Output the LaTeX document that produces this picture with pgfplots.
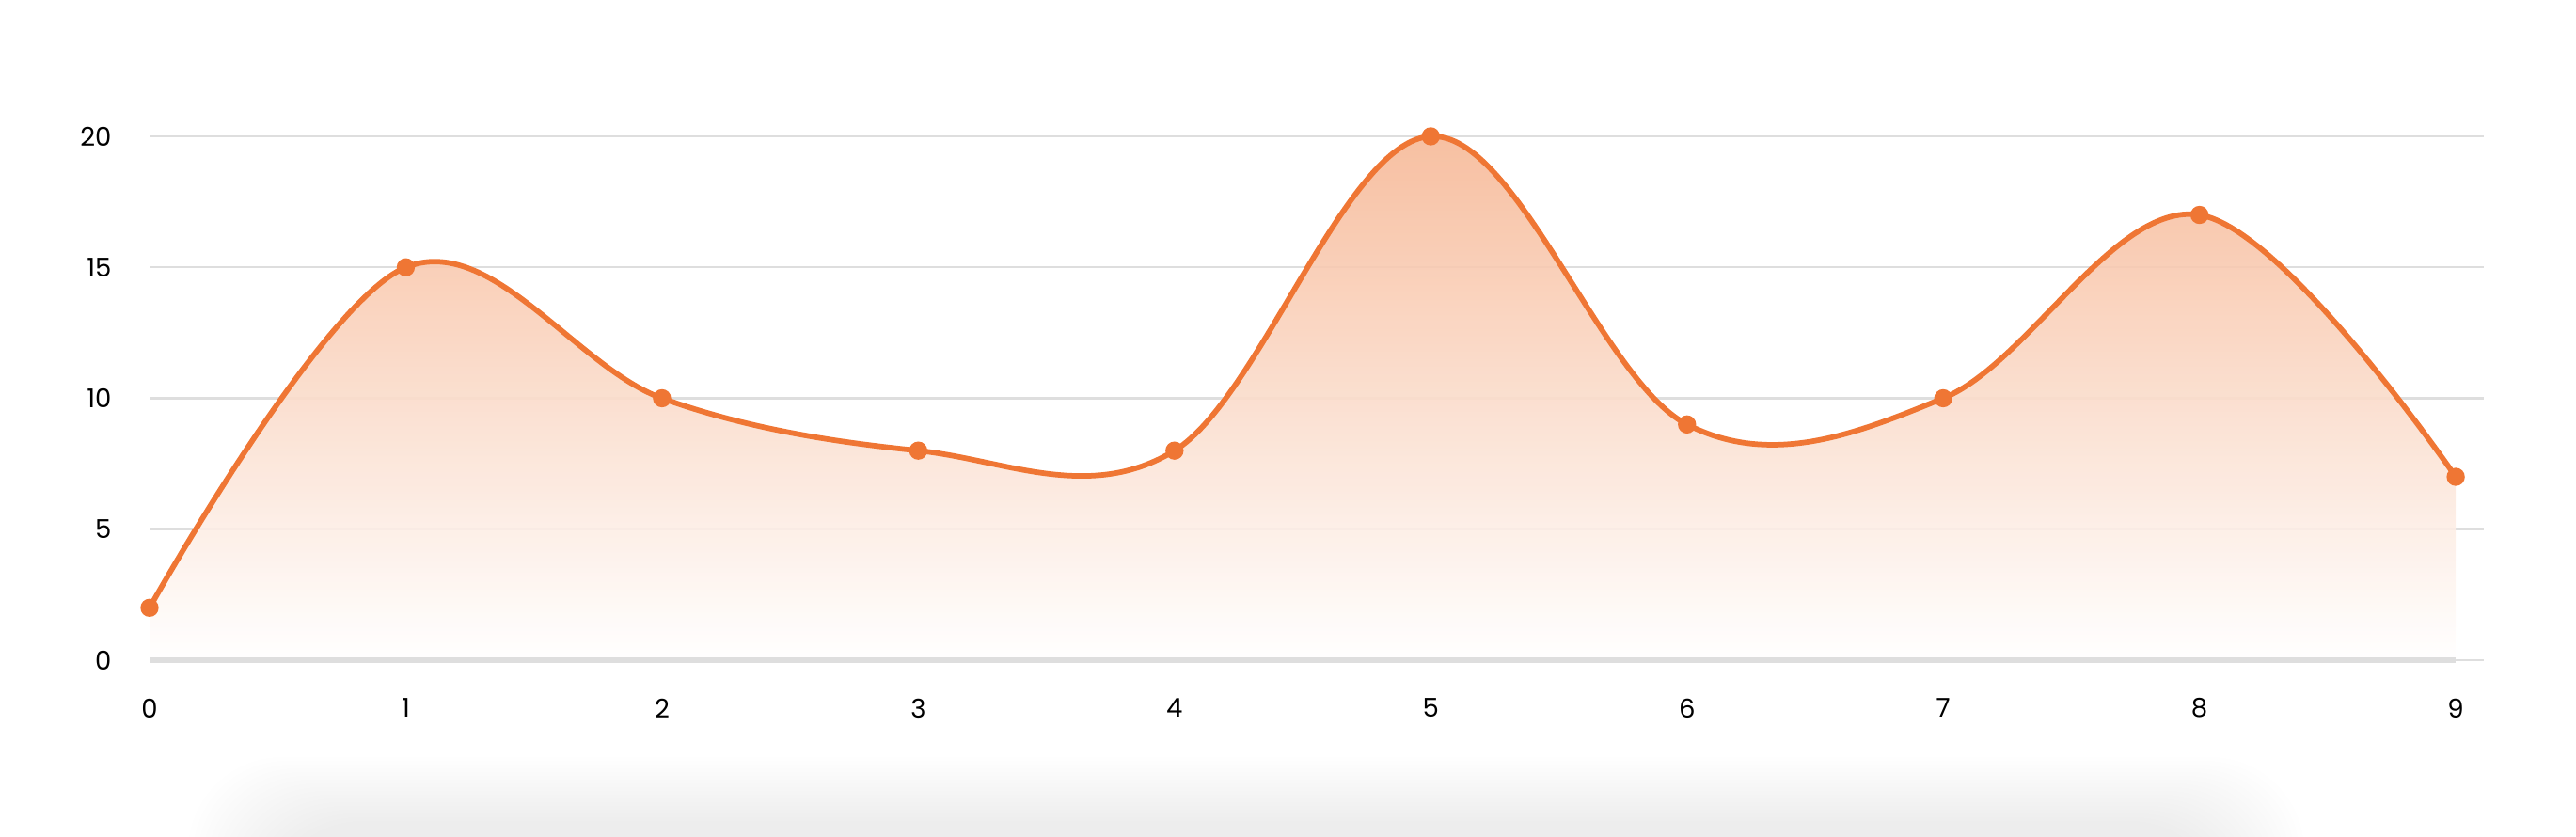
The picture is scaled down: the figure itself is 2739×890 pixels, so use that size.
\documentclass[border=0pt]{standalone}
\usepackage{pgfplots}
\pgfplotsset{compat=1.18}
\usepackage{fontspec}
\setmainfont{Poppins}
\definecolor{lineorange}{RGB}{239,118,52}
\definecolor{fillorange}{RGB}{246,184,150}
\definecolor{gridgray}{RGB}{222,222,222}

\begin{document}
\begin{tikzpicture}[x=0.4pt,y=0.4pt]
\useasboundingbox (0,0) rectangle (2739,890);
% soft shadow under the card
\foreach \i in {0,...,17} {
  \fill[black, opacity=0.0042, rounded corners=40]
    (200+5*\i,-120) rectangle (2450-5*\i,85-4*\i);
}
\begin{axis}[
    at={(63.6pt,75.2pt)}, anchor=south west,
    scale only axis, width=992.8pt, height=222.8pt,
    xmin=0, xmax=9.11, ymin=0, ymax=20,
    axis line style={draw=none},
    major tick length=0pt, tick style={draw=none},
    xtick={0,...,9}, ytick={0,5,...,20},
    ymajorgrids, grid style={gridgray, line width=1pt},
    tick label style={font=\fontsize{11}{13}\selectfont},
    xticklabel style={anchor=center, inner sep=0pt, yshift=-20.4pt},
    yticklabel style={anchor=east, inner sep=0pt, xshift=-16pt},
    /pgf/number format/assume math mode=true,
    clip=false,
  ]
  \addplot[draw=none, smooth, tension=0.6, top color=fillorange, bottom color=white, fill opacity=0.9, forget plot]
    coordinates {(0,2) (1,15) (2,10) (3,8) (4,8) (5,20) (6,9) (7,10) (8,17) (9,7)} \closedcycle;
  \addplot[gridgray, line width=2.4pt, forget plot] coordinates {(0,0) (9,0)};
  \addplot[lineorange, line width=2.3pt, smooth, tension=0.6, mark=*, mark size=2.7pt,
           mark options={solid, fill=lineorange, draw=none}]
    coordinates {(0,2) (1,15) (2,10) (3,8) (4,8) (5,20) (6,9) (7,10) (8,17) (9,7)};
\end{axis}
\end{tikzpicture}
\end{document}
